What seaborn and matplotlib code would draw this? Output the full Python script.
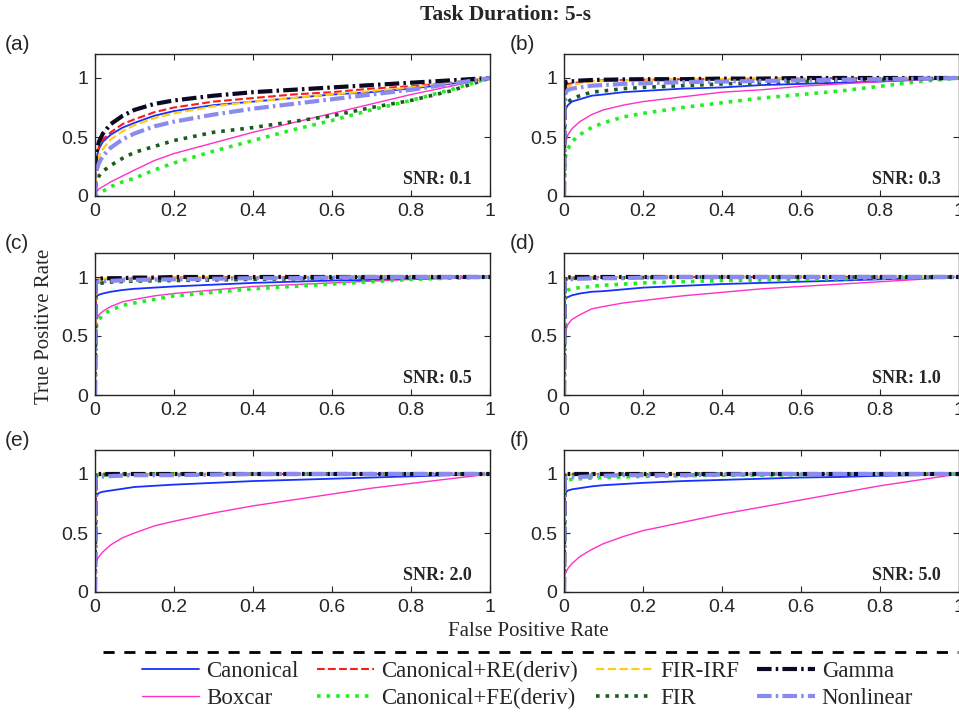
import numpy as np
import pandas as pd
import seaborn as sns
import matplotlib.pyplot as plt
from matplotlib.lines import Line2D

# false positive rate grid shared by every curve
fpr = [0, .002, .005, .01, .02, .04, .07, .1, .15, .2, .3, .4, .5, .6, .7, .8, .9, 1.0]

methods = ['Canonical', 'Boxcar', 'Canonical+RE(deriv)', 'Canonical+FE(deriv)',
           'FIR-IRF', 'FIR', 'Gamma', 'Nonlinear']
panel_tags = ['(a)', '(b)', '(c)', '(d)', '(e)', '(f)']
snr_labels = ['SNR: 0.1', 'SNR: 0.3', 'SNR: 0.5', 'SNR: 1.0', 'SNR: 2.0', 'SNR: 5.0']

# true positive rates, one dict per panel
tpr_snr01 = {
    'Canonical':           [0, .28, .34, .40, .46, .52, .58, .62, .68, .72, .77, .80, .83, .86, .88, .91, .95, 1],
    'Boxcar':              [0, .02, .04, .06, .08, .12, .17, .22, .30, .36, .45, .54, .62, .70, .78, .86, .93, 1],
    'Canonical+RE(deriv)': [0, .30, .36, .42, .48, .54, .61, .65, .71, .75, .80, .83, .86, .88, .91, .93, .96, 1],
    'Canonical+FE(deriv)': [0, .01, .01, .02, .04, .08, .12, .15, .22, .28, .38, .47, .56, .64, .73, .81, .90, 1],
    'FIR-IRF':             [0, .22, .28, .34, .40, .48, .55, .60, .66, .70, .76, .80, .83, .86, .89, .92, .96, 1],
    'FIR':                 [0, .10, .13, .17, .21, .26, .32, .37, .42, .47, .54, .58, .63, .68, .75, .81, .89, 1],
    'Gamma':               [0, .33, .40, .46, .53, .61, .68, .73, .78, .81, .85, .88, .90, .92, .94, .96, .98, 1],
    'Nonlinear':           [0, .18, .23, .28, .34, .41, .48, .53, .59, .63, .69, .74, .78, .82, .86, .90, .95, 1],
}
tpr_snr03 = {
    'Canonical':           [0, .70, .74, .77, .80, .82, .85, .86, .88, .89, .91, .92, .94, .95, .96, .97, .985, 1],
    'Boxcar':              [0, .40, .46, .52, .57, .63, .69, .73, .77, .80, .84, .88, .90, .93, .95, .97, .985, 1],
    'Canonical+RE(deriv)': [0, .93, .94, .95, .955, .965, .975, .98, .983, .985, .99, .99, .995, .995, 1, 1, 1, 1],
    'Canonical+FE(deriv)': [0, .30, .35, .40, .46, .52, .58, .62, .67, .70, .75, .79, .83, .86, .89, .93, .97, 1],
    'FIR-IRF':             [0, .88, .91, .93, .94, .955, .97, .975, .98, .985, .99, .99, .995, .995, 1, 1, 1, 1],
    'FIR':                 [0, .75, .78, .80, .82, .85, .88, .89, .91, .92, .935, .95, .96, .97, .98, .985, .99, 1],
    'Gamma':               [0, .96, .965, .97, .972, .978, .983, .985, .988, .99, .99, .995, .995, 1, 1, 1, 1, 1],
    'Nonlinear':           [0, .85, .88, .90, .91, .92, .935, .94, .95, .955, .965, .97, .975, .98, .985, .99, .995, 1],
}
tpr_snr05 = {
    'Canonical':           [0, .82, .84, .85, .86, .875, .89, .90, .91, .92, .935, .95, .96, .97, .975, .985, .99, 1],
    'Boxcar':              [0, .60, .65, .68, .71, .75, .79, .81, .84, .86, .89, .92, .935, .95, .965, .98, .99, 1],
    'Canonical+RE(deriv)': [0, .97, .975, .98, .983, .987, .99, .99, .993, .995, 1, 1, 1, 1, 1, 1, 1, 1],
    'Canonical+FE(deriv)': [0, .55, .60, .64, .68, .72, .76, .78, .81, .84, .87, .90, .92, .94, .96, .98, .99, 1],
    'FIR-IRF':             [0, .97, .975, .98, .983, .987, .99, .99, .993, .995, 1, 1, 1, 1, 1, 1, 1, 1],
    'FIR':                 [0, .93, .94, .945, .95, .957, .962, .965, .968, .97, .975, .98, .985, .99, .99, .995, 1, 1],
    'Gamma':               [0, .98, .983, .985, .988, .99, .99, .995, .995, 1, 1, 1, 1, 1, 1, 1, 1, 1],
    'Nonlinear':           [0, .95, .955, .96, .963, .967, .972, .975, .978, .98, .985, .99, .99, .995, 1, 1, 1, 1],
}
tpr_snr10 = {
    'Canonical':           [0, .80, .82, .83, .845, .86, .875, .88, .895, .91, .925, .94, .95, .96, .97, .98, .99, 1],
    'Boxcar':              [0, .50, .55, .60, .64, .68, .73, .75, .78, .80, .84, .87, .90, .92, .94, .96, .98, 1],
    'Canonical+RE(deriv)': [0, .99, .99, .99, .995, .995, 1, 1, 1, 1, 1, 1, 1, 1, 1, 1, 1, 1],
    'Canonical+FE(deriv)': [0, .86, .875, .89, .90, .91, .92, .93, .94, .95, .96, .97, .975, .98, .985, .99, .995, 1],
    'FIR-IRF':             [0, .99, .99, .99, .995, .995, 1, 1, 1, 1, 1, 1, 1, 1, 1, 1, 1, 1],
    'FIR':                 [0, .98, .982, .985, .988, .99, .99, .99, .993, .995, 1, 1, 1, 1, 1, 1, 1, 1],
    'Gamma':               [0, .99, .993, .995, 1, 1, 1, 1, 1, 1, 1, 1, 1, 1, 1, 1, 1, 1],
    'Nonlinear':           [0, .97, .975, .98, .982, .985, .988, .99, .99, .995, 1, 1, 1, 1, 1, 1, 1, 1],
}
tpr_snr20 = {
    'Canonical':           [0, .80, .82, .84, .85, .86, .875, .89, .90, .91, .925, .94, .95, .96, .97, .98, .99, 1],
    'Boxcar':              [0, .25, .27, .30, .34, .40, .46, .50, .56, .60, .67, .73, .78, .83, .88, .92, .96, 1],
    'Canonical+RE(deriv)': [0, .99, .995, .995, 1, 1, 1, 1, 1, 1, 1, 1, 1, 1, 1, 1, 1, 1],
    'Canonical+FE(deriv)': [0, .98, .985, .99, .99, .99, .995, 1, 1, 1, 1, 1, 1, 1, 1, 1, 1, 1],
    'FIR-IRF':             [0, .99, .995, .995, 1, 1, 1, 1, 1, 1, 1, 1, 1, 1, 1, 1, 1, 1],
    'FIR':                 [0, .99, .99, .99, .995, 1, 1, 1, 1, 1, 1, 1, 1, 1, 1, 1, 1, 1],
    'Gamma':               [0, .995, 1, 1, 1, 1, 1, 1, 1, 1, 1, 1, 1, 1, 1, 1, 1, 1],
    'Nonlinear':           [0, .97, .972, .975, .978, .982, .986, .99, .99, .99, .995, 1, 1, 1, 1, 1, 1, 1],
}
tpr_snr50 = {
    'Canonical':           [0, .83, .845, .86, .87, .88, .895, .905, .915, .925, .94, .95, .96, .97, .975, .985, .99, 1],
    'Boxcar':              [0, .15, .17, .20, .24, .30, .36, .41, .47, .52, .59, .66, .72, .78, .84, .90, .95, 1],
    'Canonical+RE(deriv)': [0, .99, .995, .995, 1, 1, 1, 1, 1, 1, 1, 1, 1, 1, 1, 1, 1, 1],
    'Canonical+FE(deriv)': [0, .93, .94, .95, .955, .96, .965, .97, .975, .98, .985, .99, .99, .995, 1, 1, 1, 1],
    'FIR-IRF':             [0, .99, .995, .995, 1, 1, 1, 1, 1, 1, 1, 1, 1, 1, 1, 1, 1, 1],
    'FIR':                 [0, .99, .99, .99, .995, 1, 1, 1, 1, 1, 1, 1, 1, 1, 1, 1, 1, 1],
    'Gamma':               [0, .995, 1, 1, 1, 1, 1, 1, 1, 1, 1, 1, 1, 1, 1, 1, 1, 1],
    'Nonlinear':           [0, .96, .965, .97, .972, .975, .98, .985, .99, .99, .99, .995, 1, 1, 1, 1, 1, 1],
}
panels = [tpr_snr01, tpr_snr03, tpr_snr05, tpr_snr10, tpr_snr20, tpr_snr50]

styles = {
    'Canonical':           dict(color='#1530ff', lw=1.3, ls='-'),
    'Boxcar':              dict(color='#ff30c8', lw=1.0, ls='-'),
    'Canonical+RE(deriv)': dict(color='#ff1a1a', lw=1.5, ls='--'),
    'Canonical+FE(deriv)': dict(color='#22ee22', lw=2.6, ls=':'),
    'FIR-IRF':             dict(color='#ffcc1a', lw=1.6, ls='--'),
    'FIR':                 dict(color='#1a5c1a', lw=2.6, ls=':'),
    'Gamma':               dict(color='#0a0a22', lw=3.0, ls=(0, (3.5, 1.0, 0.6, 1.0))),
    'Nonlinear':           dict(color='#8a8af0', lw=3.0, ls=(0, (3.5, 1.0, 0.6, 1.0))),
}

sns.set_style('ticks')
plt.rcParams['font.family'] = ['Liberation Sans', 'DejaVu Sans']
plt.rcParams['xtick.direction'] = 'in'
plt.rcParams['ytick.direction'] = 'in'
serif = ['Liberation Serif', 'DejaVu Serif']

W, H = 959, 712
fig = plt.figure(figsize=(W / 100, H / 100), dpi=100)

cols = [(95, 490), (564, 959)]
tag_x = [5, 510]
bottoms = [196, 395, 592]
for i, data in enumerate(panels):
    left, right = cols[i % 2]
    bottom = bottoms[i // 2]
    top = bottom - 1.2 * 118
    ax = fig.add_axes([left / W, 1 - bottom / H, (right - left) / W, (bottom - top) / H])
    for m in methods:
        st = styles[m]
        sns.lineplot(x=fpr, y=data[m], ax=ax, color=st['color'], lw=st['lw'],
                     ls=st['ls'], estimator=None, sort=False, legend=False)
    ax.set_xlim(0, 1)
    ax.set_ylim(0, 1.2)
    ax.set_xticks([0, 0.2, 0.4, 0.6, 0.8, 1])
    ax.set_xticklabels(['0', '0.2', '0.4', '0.6', '0.8', '1'])
    ax.set_yticks([0, 0.5, 1])
    ax.set_yticklabels(['0', '0.5', '1'])
    ax.tick_params(top=True, right=True, length=4, width=0.8, labelsize=14,
                   color='#262626', pad=5)
    for sp in ax.spines.values():
        sp.set_visible(True)
        sp.set_color('#262626')
        sp.set_linewidth(1.0)
    ax.text(0.955, 0.12, snr_labels[i], transform=ax.transAxes, ha='right',
            va='center', fontsize=13, fontweight='bold', family=serif)
    fig.text(tag_x[i % 2] / W, 1 - (top - 10) / H, panel_tags[i], fontsize=15,
             ha='left', va='center')

fig.text(505 / W, 1 - 15 / H, 'Task Duration: 5-s', ha='center', va='center',
         fontsize=15.5, fontweight='bold', family=serif)
fig.text(45 / W, 1 - 326 / H, 'True Positive Rate', rotation=90, ha='center',
         va='center', fontsize=15, family=serif)
fig.text(528 / W, 1 - 632 / H, 'False Positive Rate', ha='center', va='center',
         fontsize=15, family=serif)

# dashed separator above the legend
fig.add_artist(Line2D([103 / W, 958 / W], [1 - 652 / H, 1 - 652 / H], color='black',
                      lw=2, ls=(0, (4, 3.5))))

order = ['Canonical', 'Boxcar', 'Canonical+RE(deriv)', 'Canonical+FE(deriv)',
         'FIR-IRF', 'FIR', 'Gamma', 'Nonlinear']
handles = [Line2D([], [], color=styles[m]['color'], lw=styles[m]['lw'],
                  ls=styles[m]['ls']) for m in order]
fig.legend(handles, order, ncol=4, loc='center', bbox_to_anchor=(0.55, 1 - 685 / H),
           frameon=False, handlelength=2.5, handletextpad=0.3, columnspacing=0.8,
           labelspacing=0.25, prop={'family': serif, 'size': 16.5})

fig.savefig('out.png', dpi=100)
